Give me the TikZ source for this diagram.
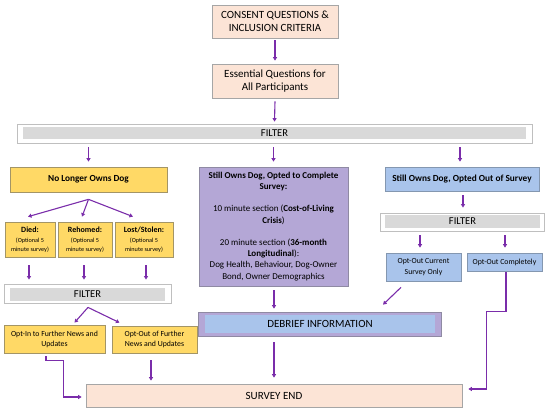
\documentclass[tikz,border=0pt]{standalone}
\usepackage{fontspec}
\setmainfont{Carlito}
\usetikzlibrary{arrows.meta,calc}
\definecolor{peach}{HTML}{FCE4D6}
\definecolor{peachline}{HTML}{A6A6A6}
\definecolor{yel}{HTML}{FFD966}
\definecolor{yelline}{HTML}{A39566}
\definecolor{lav}{HTML}{B4A7D6}
\definecolor{lavline}{HTML}{8F8AA3}
\definecolor{blu}{HTML}{A9C4EB}
\definecolor{bluline}{HTML}{8497B0}
\definecolor{fgray}{HTML}{D9D9D9}
\definecolor{fline}{HTML}{BFBFBF}
\definecolor{arr}{HTML}{7A2DAA}
\begin{document}
\begin{tikzpicture}[x=1pt,y=-1pt,
 box/.style={draw, line width=0.7pt, inner sep=0pt, align=center, text=black},
 peachbox/.style={box, fill=peach, draw=peachline},
 yelbox/.style={box, fill=yel, draw=yelline},
 lavbox/.style={box, fill=lav, draw=lavline},
 blubox/.style={box, fill=blu, draw=bluline},
 filterout/.style={draw=fline, line width=0.8pt, fill=white, inner sep=0pt},
 filterin/.style={fill=fgray, inner sep=0pt, font=\fontsize{10.5}{12}\selectfont},
 arrow/.style={draw=arr, line width=1.1pt, -{Triangle[length=3.5pt,width=4pt]}},
 big/.style={font=\fontsize{11}{13.4}\selectfont},
 smalltxt/.style={font=\fontsize{7.8}{10}\selectfont},
]
\useasboundingbox (0,0) rectangle (550,412);

% top column
\node[peachbox, big, minimum width=126pt, minimum height=33pt] (consent) at (275,21.5) {CONSENT QUESTIONS \&\\INCLUSION CRITERIA};
\node[peachbox, big, minimum width=126pt, minimum height=34pt] (essential) at (275,81) {Essential Questions for\\All Participants};
\node[filterout, minimum width=515pt, minimum height=19pt] (ftop) at (274.5,133.5) {};
\node[filterin, minimum width=503pt, minimum height=12pt] (ftopin) at (274.5,133.3) {FILTER};

% left column
\node[yelbox, font=\fontsize{9.3}{11}\selectfont\bfseries, minimum width=157pt, minimum height=25pt] (nolonger) at (88.5,179.5) {No Longer Owns Dog};
\node[yelbox, font=\fontsize{6.2}{9}\selectfont, minimum width=50pt, minimum height=35pt] (died) at (30,239.5) {{\fontsize{8}{10}\selectfont\bfseries Died:}\\[0.5pt](Optional 5\\minute survey)};
\node[yelbox, font=\fontsize{6.2}{9}\selectfont, minimum width=54pt, minimum height=35pt] (rehomed) at (85,239.5) {{\fontsize{8}{10}\selectfont\bfseries Rehomed:}\\[0.5pt](Optional 5\\minute survey)};
\node[yelbox, font=\fontsize{6.2}{9}\selectfont, minimum width=58pt, minimum height=35pt] (lost) at (144,239.5) {{\fontsize{8}{10}\selectfont\bfseries Lost/Stolen:}\\[0.5pt](Optional 5\\minute survey)};
\node[filterout, minimum width=167pt, minimum height=19pt] (lfilter) at (87.5,293.5) {};
\node[filterin, minimum width=155pt, minimum height=13pt] (lfilterin) at (87.5,294.5) {FILTER};
\node[yelbox, smalltxt, minimum width=101pt, minimum height=28pt] (optin) at (54.5,339) {Opt-In to Further News and\\Updates};
\node[yelbox, smalltxt, minimum width=85pt, minimum height=27pt] (optoutnews) at (154.5,339.5) {Opt-Out of Further\\News and Updates};

% middle column
\node[draw=lavline, fill=lav, line width=0.7pt, inner sep=0pt, font=\fontsize{9}{11.2}\selectfont, minimum width=149pt, minimum height=119pt] (purple) at (273.5,226.5) {\begin{tabular}{@{}c@{}}
\textbf{Still Owns Dog, Opted to Complete}\\
\textbf{Survey:}\\[11.2pt]
10 minute section (\textbf{Cost-of-Living}\\
\textbf{Crisis})\\[11.2pt]
20 minute section (\textbf{36-month}\\
\textbf{Longitudinal}):\\
Dog Health, Behaviour, Dog-Owner\\
Bond, Owner Demographics
\end{tabular}};
\node[lavbox, minimum width=243pt, minimum height=24pt] (debrief) at (319.5,324) {};
\node[fill=blu, inner sep=0pt, big, minimum width=230pt, minimum height=18pt] (debriefin) at (320,324) {DEBRIEF INFORMATION};
\node[peachbox, big, minimum width=376pt, minimum height=23pt] (survey) at (274,395.5) {SURVEY END};

% right column
\node[blubox, font=\fontsize{9.3}{11}\selectfont\bfseries, minimum width=154pt, minimum height=24pt] (optedout) at (462,179) {Still Owns Dog, Opted Out of Survey};
\node[filterout, minimum width=164pt, minimum height=18pt] (rfilter) at (462,222) {};
\node[filterin, minimum width=155pt, minimum height=13pt] (rfilterin) at (462.5,221.5) {FILTER};
\node[blubox, font=\fontsize{7.8}{11.5}\selectfont, minimum width=75pt, minimum height=28pt] (optcurrent) at (423.5,267) {Opt-Out Current\\Survey Only};
\node[blubox, smalltxt, minimum width=75pt, minimum height=18pt] (optcompl) at (504.5,262) {Opt-Out Completely};

% connectors
\draw[arrow] ($(consent.south)+(0,2)$) -- ($(essential.north)+(0,-3)$);
\draw[arrow] ($(essential.south)+(0,3)$) -- ($(ftop.north)+(0,-2)$);
\draw[arrow] ($(ftop.south -| nolonger.north)+(0,4)$) -- ($(nolonger.north)+(0,-5)$);
\draw[arrow] ($(ftop.south -| purple.north)+(0,4)$) -- ($(purple.north)+(0,-5)$);
\draw[arrow] ($(ftop.south -| optedout.north)+(-2,4)$) -- ($(optedout.north)+(-2,-5)$);

\coordinate (apex) at ($(nolonger.south)+(0,7)$);
\draw[arrow] (apex) -- ($(died.north)+(-2,-5)$);
\draw[arrow] (apex) -- ($(rehomed.north)+(-3,-5)$);
\draw[arrow] (apex) -- ($(lost.north)+(-11,-5)$);

\draw[arrow] ($(died.south)+(-1,8)$) -- ($(died.south |- lfilter.north)+(-1,-4)$);
\draw[arrow] ($(rehomed.south)+(-1,8)$) -- ($(rehomed.south |- lfilter.north)+(-1,-4)$);
\draw[arrow] ($(lost.south)+(2,8)$) -- ($(lost.south |- lfilter.north)+(2,-4)$);

\coordinate (lapex) at ($(lfilter.south)+(0.5,4)$);
\draw[arrow] (lapex) -- ($(optin.north)+(20,-2)$);
\draw[arrow] (lapex) -- ($(optoutnews.north)+(-35,-3)$);

\draw[arrow] ($(optin.south)+(-8.5,3)$) -- ++(0,4) -| ($(survey.west)+(-22,1.5)$) -- ($(survey.west)+(-4,1.5)$);
\draw[arrow] ($(optoutnews.south)+(-3.5,7)$) -- ($(optoutnews.south |- survey.north)+(-3.5,-3)$);

\draw[arrow] ($(purple.south)+(0.5,4)$) -- ($(purple.south |- debrief.north)+(0.5,-3)$);
\draw[arrow] ($(debrief.south -| survey.north)+(0,6)$) -- ($(survey.north)+(0,-6)$);

\draw[arrow] ($(optedout.south)+(1,4)$) -- ($(optedout.south |- rfilter.north)+(1,-5)$);
\draw[arrow] ($(rfilter.south -| optcurrent.north)+(-3.5,4)$) -- ($(optcurrent.north)+(-3.5,-5)$);
\draw[arrow] ($(rfilter.south -| optcompl.north)+(0.5,4)$) -- ($(optcompl.north)+(0.5,-5)$);

\draw[arrow] ($(optcurrent.south)+(-22.5,6)$) -- ($(debrief.north)+(63.5,-7)$);
\draw[arrow] ($(optcompl.south)+(1.5,1)$) -- ++(0,39) -| ($(survey.east)+(24,-6.5)$) -- ($(survey.east)+(6,-6.5)$);
\end{tikzpicture}
\end{document}
